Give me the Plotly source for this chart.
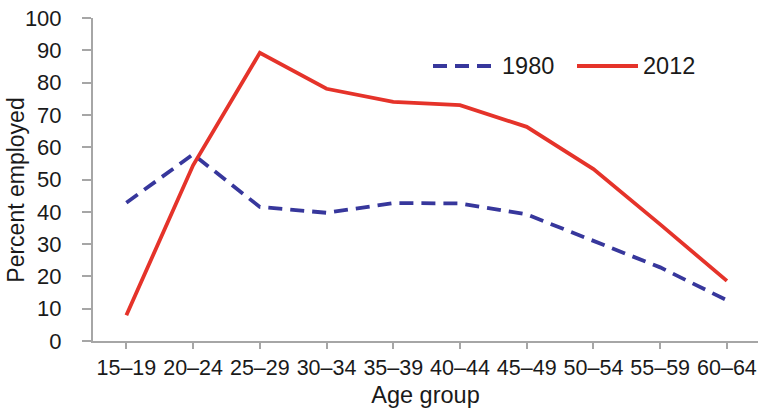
import plotly.graph_objects as go

# Employment rate by age group, two survey years
age_groups = ["15–19", "20–24", "25–29", "30–34", "35–39",
              "40–44", "45–49", "50–54", "55–59", "60–64"]
pct_1980 = [42.8, 57.8, 41.5, 39.7, 42.7, 42.6, 39.2, 31.0, 22.8, 12.6]
pct_2012 = [8.0, 54.4, 89.2, 78.1, 74.0, 73.0, 66.3, 53.2, 36.1, 18.6]
y_ticks = [0, 10, 20, 30, 40, 50, 60, 70, 80, 90, 100]

W, H = 758, 413
M_L, M_R, M_T, M_B = 93, 0, 18, 72

BLUE = "#37379c"
RED = "#e5332a"
AXIS = "#a6a6a6"
FONT = "Liberation Sans, Arial, sans-serif"
TXT = "#1a1a1a"


def px_x(px):
    return (px - M_L) / (W - M_L - M_R)


def px_y(py):
    return (H - M_B - py) / (H - M_T - M_B)


idx = list(range(len(age_groups)))

fig = go.Figure()
fig.add_trace(go.Scatter(
    x=idx, y=pct_1980, mode="lines", name="1980", showlegend=False,
    line=dict(color=BLUE, width=3.8, dash="14px,8px"),
))
fig.add_trace(go.Scatter(
    x=idx, y=pct_2012, mode="lines", name="2012", showlegend=False,
    line=dict(color=RED, width=3.8),
))

# legend drawn as line samples with labels
legend_y = px_y(66)
fig.add_shape(type="line", xref="paper", yref="paper",
              x0=px_x(433), x1=px_x(496), y0=legend_y, y1=legend_y,
              line=dict(color=BLUE, width=3.8, dash="14px,8px"))
fig.add_shape(type="line", xref="paper", yref="paper",
              x0=px_x(577), x1=px_x(638), y0=legend_y, y1=legend_y,
              line=dict(color=RED, width=3.8))
fig.add_annotation(text="1980", xref="paper", yref="paper",
                   x=px_x(500), y=legend_y, xanchor="left", yanchor="middle",
                   showarrow=False, font=dict(size=23.5, color=TXT, family=FONT))
fig.add_annotation(text="2012", xref="paper", yref="paper",
                   x=px_x(641), y=legend_y, xanchor="left", yanchor="middle",
                   showarrow=False, font=dict(size=23.5, color=TXT, family=FONT))

# y-axis title
fig.add_annotation(text="Percent employed", xref="paper", yref="paper",
                   x=px_x(16), y=px_y(190.7), xanchor="center", yanchor="middle",
                   textangle=-90, showarrow=False,
                   font=dict(size=23, color=TXT, family=FONT))

fig.update_layout(
    width=W, height=H,
    margin=dict(l=M_L, r=M_R, t=M_T, b=M_B),
    paper_bgcolor="white", plot_bgcolor="white",
    font=dict(family=FONT, color=TXT),
    xaxis=dict(
        range=[-0.5, 9.466],
        tickmode="array", tickvals=idx, ticktext=age_groups,
        tickson="boundaries",
        ticks="outside", ticklen=6, tickwidth=2, tickcolor=AXIS,
        showline=True, linecolor=AXIS, linewidth=2,
        showgrid=False, zeroline=False,
        tickfont=dict(size=21.5, color=TXT),
        title=dict(text="Age group", font=dict(size=23.5, color=TXT), standoff=8),
    ),
    yaxis=dict(
        range=[0, 100],
        tickmode="array", tickvals=y_ticks,
        ticks="outside", ticklen=9, tickwidth=2, tickcolor=AXIS,
        showline=True, linecolor=AXIS, linewidth=2,
        showgrid=False, zeroline=False,
        tickfont=dict(size=22, color=TXT),
        ticklabelstandoff=16,
    ),
)

fig.write_html("out.html")
